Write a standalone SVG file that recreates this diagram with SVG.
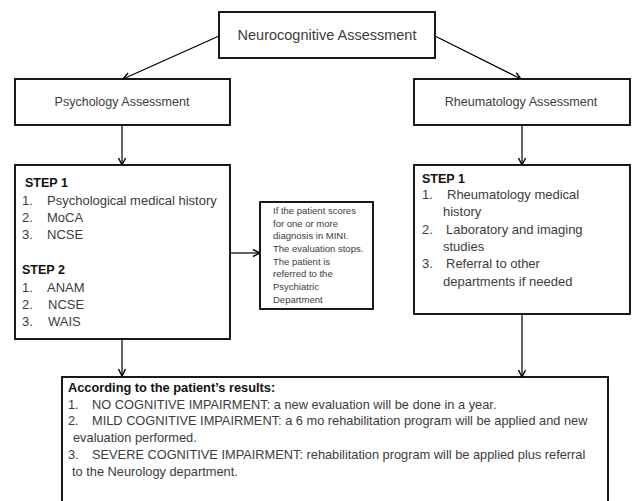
<svg xmlns="http://www.w3.org/2000/svg" width="635" height="501" viewBox="0 0 635 501">
<defs>
<marker id="arr" markerUnits="userSpaceOnUse" markerWidth="10" markerHeight="10" viewBox="0 0 10 10" refX="8" refY="5" orient="auto">
<path d="M1,1.5 L8,5 L1,8.5" fill="none" stroke="#000" stroke-width="1.4"/>
</marker>
</defs>
<style>
.box{fill:#fff;stroke:#000;stroke-width:1.8}
.t{font-family:"Liberation Sans",Arial,sans-serif;fill:#3c3c3c}
.b{font-family:"Liberation Sans",Arial,sans-serif;fill:#111;font-weight:bold}
.c{fill:none;stroke:#000;stroke-width:1.2}
</style>
<rect width="635" height="501" fill="#fff"/>
<g id="connectors">
<line class="c" x1="219" y1="36" x2="123" y2="79" marker-end="url(#arr)"/>
<line class="c" x1="435" y1="36" x2="521" y2="79" marker-end="url(#arr)"/>
<line class="c" x1="122" y1="125" x2="122" y2="165" marker-end="url(#arr)"/>
<line class="c" x1="522" y1="125" x2="522" y2="165" marker-end="url(#arr)"/>
<line class="c" x1="230" y1="253" x2="260" y2="253" marker-end="url(#arr)"/>
<line class="c" x1="122" y1="339" x2="122" y2="376" marker-end="url(#arr)"/>
<line class="c" x1="522" y1="314" x2="522" y2="377" marker-end="url(#arr)"/>
</g>
<g id="neuro">
<rect class="box" x="219" y="12" width="216" height="46"/>
<text class="t" x="327" y="40" font-size="14.5" text-anchor="middle">Neurocognitive Assessment</text>
</g>
<g id="psych">
<rect class="box" x="15" y="79" width="215" height="46"/>
<text class="t" x="122" y="106" font-size="12.5" text-anchor="middle">Psychology Assessment</text>
</g>
<g id="rheum">
<rect class="box" x="414" y="79" width="216" height="46"/>
<text class="t" x="521" y="106" font-size="12.6" text-anchor="middle">Rheumatology Assessment</text>
</g>
<g id="psych-steps" font-size="13">
<rect class="box" x="15" y="165" width="215" height="174"/>
<text class="b" x="25" y="187" font-size="12.5">STEP 1</text>
<text class="t" x="22" y="205">1.</text><text class="t" x="47" y="205">Psychological medical history</text>
<text class="t" x="22" y="222">2.</text><text class="t" x="47" y="222">MoCA</text>
<text class="t" x="22" y="239">3.</text><text class="t" x="47" y="239">NCSE</text>
<text class="b" x="22" y="274" font-size="12.5">STEP 2</text>
<text class="t" x="22" y="292">1.</text><text class="t" x="47" y="292">ANAM</text>
<text class="t" x="22" y="309">2.</text><text class="t" x="48" y="309">NCSE</text>
<text class="t" x="22" y="326">3.</text><text class="t" x="48" y="326">WAIS</text>
</g>
<g id="mini" font-size="9.5">
<rect class="box" x="260" y="202" width="113" height="107"/>
<text class="t" x="273" y="214">If the patient scores</text>
<text class="t" x="273" y="226.5">for one or more</text>
<text class="t" x="273" y="239">diagnosis in MINI.</text>
<text class="t" x="273" y="252">The evaluation stops.</text>
<text class="t" x="273" y="264.5">The patient is</text>
<text class="t" x="273" y="277">referred to the</text>
<text class="t" x="273" y="290">Psychiatric</text>
<text class="t" x="273" y="302.5">Department</text>
</g>
<g id="rheum-steps" font-size="13">
<rect class="box" x="414" y="165" width="216" height="149"/>
<text class="b" x="422" y="183" font-size="12.5">STEP 1</text>
<text class="t" x="422" y="199">1.</text><text class="t" x="447" y="199">Rheumatology medical</text>
<text class="t" x="443" y="216">history</text>
<text class="t" x="422" y="234">2.</text><text class="t" x="446" y="234">Laboratory and imaging</text>
<text class="t" x="443" y="251">studies</text>
<text class="t" x="422" y="268">3.</text><text class="t" x="446" y="268">Referral to other</text>
<text class="t" x="443" y="286">departments if needed</text>
</g>
<g id="results" font-size="12.8">
<rect class="box" x="62" y="377" width="546" height="140"/>
<text class="b" x="68" y="392">According to the patient’s results:</text>
<text class="t" x="68" y="409">1.</text><text class="t" x="92" y="409">NO COGNITIVE  IMPAIRMENT: a new evaluation will be done in a year.</text>
<text class="t" x="68" y="425">2.</text><text class="t" x="92" y="425">MILD COGNITIVE  IMPAIRMENT: a 6 mo rehabilitation program will be applied and new</text>
<text class="t" x="73" y="442">evaluation performed.</text>
<text class="t" x="68" y="459">3.</text><text class="t" x="92" y="459">SEVERE COGNITIVE  IMPAIRMENT: rehabilitation program will be applied plus referral</text>
<text class="t" x="72" y="476">to the Neurology department.</text>
</g>
</svg>
